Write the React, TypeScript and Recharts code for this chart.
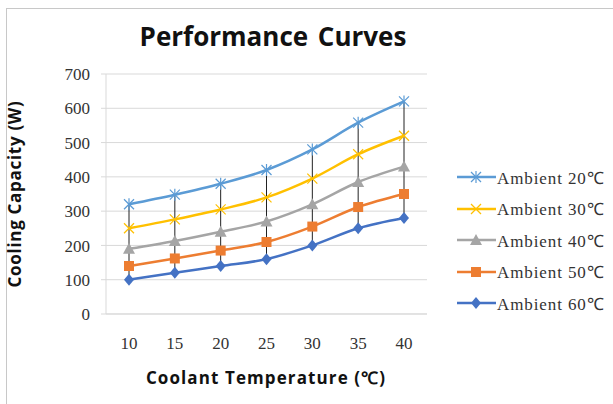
import React from 'react';
import { LineChart, Line, XAxis, YAxis, CartesianGrid, ReferenceLine } from 'recharts';

const categories = ['10', '15', '20', '25', '30', '35', '40'];
const ambient20 = [320, 348, 380, 420, 480, 558, 620];
const ambient30 = [250, 276, 305, 340, 395, 466, 520];
const ambient40 = [190, 213, 240, 270, 320, 385, 430];
const ambient50 = [140, 162, 185, 210, 255, 312, 350];
const ambient60 = [100, 120, 140, 160, 200, 250, 280];
const yTicks = [0, 100, 200, 300, 400, 500, 600, 700];

const seriesNames = ['Ambient 20℃', 'Ambient 30℃', 'Ambient 40℃', 'Ambient 50℃', 'Ambient 60℃'];
const seriesValues = [ambient20, ambient30, ambient40, ambient50, ambient60];
const seriesColors = ['#5B9BD5', '#FFC000', '#A5A5A5', '#ED7D31', '#4472C4'];
const seriesMarkers = ['star', 'x', 'triangle', 'square', 'diamond'];

const serif = '"Liberation Serif", serif';
const sans = '"Open Sans", sans-serif';

const data = categories.map((c, i) => {
  const row: any = { temp: c };
  seriesValues.forEach((vals, s) => {
    row['s' + s] = vals[i];
  });
  return row;
});

// marker glyph centred on (cx, cy)
const Marker = ({ kind, cx, cy, color }: { kind: string; cx: number; cy: number; color: string }) => {
  if (kind === 'star') {
    return (
      <g stroke={color} strokeWidth={1.2}>
        <line x1={cx - 5} y1={cy - 5} x2={cx + 5} y2={cy + 5} />
        <line x1={cx - 5} y1={cy + 5} x2={cx + 5} y2={cy - 5} />
        <line x1={cx} y1={cy - 6} x2={cx} y2={cy + 6} />
      </g>
    );
  }
  if (kind === 'x') {
    return (
      <g stroke={color} strokeWidth={1.2}>
        <line x1={cx - 5} y1={cy - 5} x2={cx + 5} y2={cy + 5} />
        <line x1={cx - 5} y1={cy + 5} x2={cx + 5} y2={cy - 5} />
      </g>
    );
  }
  if (kind === 'triangle') {
    return <polygon points={`${cx},${cy - 6} ${cx + 6},${cy + 5} ${cx - 6},${cy + 5}`} fill={color} />;
  }
  if (kind === 'square') {
    return <rect x={cx - 5} y={cy - 5} width={10} height={10} fill={color} />;
  }
  return <polygon points={`${cx},${cy - 6} ${cx + 5},${cy} ${cx},${cy + 6} ${cx - 5},${cy}`} fill={color} />;
};

const makeDot = (kind: string, color: string) => (props: any) => {
  const { cx, cy, index } = props;
  if (cx == null || cy == null) return <g key={index} />;
  return <Marker key={index} kind={kind} cx={cx} cy={cy} color={color} />;
};

// serif tick labels, like the original
const YTick = (props: any) => {
  const { x, y, payload } = props;
  return (
    <text x={x} y={y} dy="0.36em" textAnchor="end" fill="#333" fontSize={17} fontFamily={serif}>
      {payload.value}
    </text>
  );
};

const XTick = (props: any) => {
  const { x, y, payload } = props;
  return (
    <text x={x} y={y} dy="0.75em" textAnchor="middle" fill="#333" fontSize={17} fontFamily={serif}>
      {payload.value}
    </text>
  );
};

const App: React.FC = () => {
  return (
    <div style={{ position: 'absolute', left: 0, top: 0, width: 613, height: 404, overflow: 'hidden', background: '#fff' }}>
      <div style={{ position: 'absolute', left: 6, top: 8, width: 640, height: 420, border: '1.5px solid #c8c8c8' }} />

      <div
        style={{
          position: 'absolute', left: 0, top: 18, width: 546, textAlign: 'center',
          fontFamily: sans, fontWeight: 700, fontSize: 26, letterSpacing: 0, wordSpacing: 3, color: '#111',
        }}
      >
        Performance Curves
      </div>

      <LineChart
        width={613}
        height={404}
        data={data}
        margin={{ top: 74, right: 186, bottom: 60, left: 46 }}
        style={{ fontFamily: serif }}
      >
        <CartesianGrid vertical={false} stroke="#d9d9d9" strokeWidth={1} />
        <XAxis
          dataKey="temp"
          height={30}
          padding={{ left: 23, right: 23 }}
          axisLine={{ stroke: '#d9d9d9' }}
          tickLine={false}
          tickSize={0}
          tickMargin={22}
          tick={<XTick />}
        />
        <YAxis
          width={60}
          domain={[0, 700]}
          ticks={yTicks}
          interval={0}
          axisLine={{ stroke: '#d9d9d9' }}
          tickLine={{ stroke: '#d9d9d9' }}
          tickSize={5}
          tickMargin={11}
          tick={<YTick />}
        />
        {categories.map((c, i) => (
          <ReferenceLine
            key={'drop' + c}
            segment={[{ x: c, y: ambient60[i] }, { x: c, y: ambient20[i] }]}
            stroke="#222"
            strokeWidth={1}
          />
        ))}
        {seriesNames.map((name, s) => (
          <Line
            key={name}
            name={name}
            dataKey={'s' + s}
            type="monotone"
            stroke={seriesColors[s]}
            strokeWidth={2.5}
            dot={makeDot(seriesMarkers[s], seriesColors[s])}
            activeDot={false}
            isAnimationActive={false}
          />
        ))}
      </LineChart>

      <div style={{ position: 'absolute', left: 14, top: 194, width: 0, height: 0 }}>
        <div
          style={{
            position: 'absolute', left: 0, top: 0, transform: 'translate(-50%, -50%) rotate(-90deg)', whiteSpace: 'nowrap',
            fontFamily: sans, fontWeight: 700, fontSize: 17, letterSpacing: 0.7, color: '#111',
          }}
        >
          Cooling Capacity (W)
        </div>
      </div>

      <div
        style={{
          position: 'absolute', left: 0, top: 366, width: 532, textAlign: 'center', whiteSpace: 'nowrap',
          fontFamily: sans, fontWeight: 700, fontSize: 17, letterSpacing: 1.1, color: '#111',
        }}
      >
        Coolant Temperature (℃)
      </div>

      {seriesNames.map((name, s) => (
        <div
          key={'lg' + name}
          style={{ position: 'absolute', left: 455, top: 166 + s * 31.5, height: 22, display: 'flex', alignItems: 'center' }}
        >
          <svg width={42} height={22}>
            <line x1={2} y1={11} x2={41} y2={11} stroke={seriesColors[s]} strokeWidth={2.5} />
            <Marker kind={seriesMarkers[s]} cx={21} cy={11} color={seriesColors[s]} />
          </svg>
          <span style={{ fontFamily: serif, fontSize: 17, letterSpacing: 0.9, color: '#333', whiteSpace: 'nowrap' }}>
            {name}
          </span>
        </div>
      ))}
    </div>
  );
};

export default App;
